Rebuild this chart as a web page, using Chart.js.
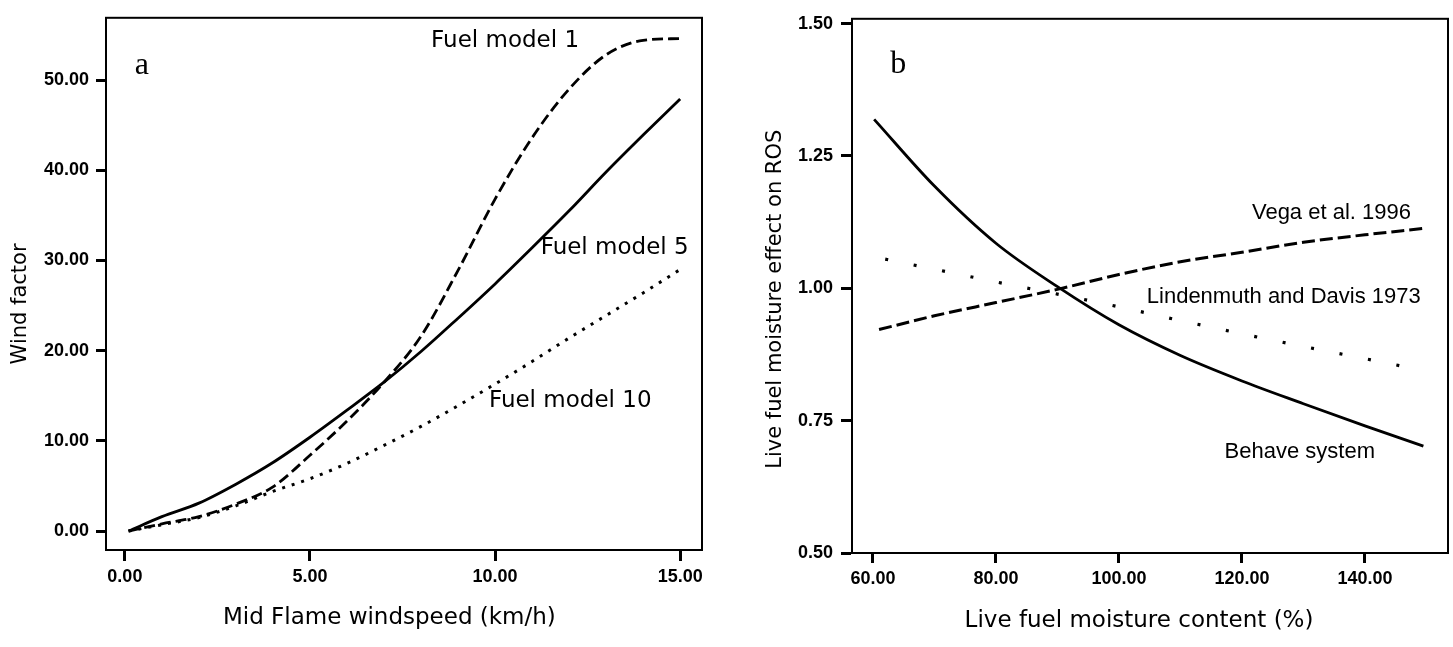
<!DOCTYPE html>
<html>
<head>
<meta charset="utf-8">
<script src="https://cdn.jsdelivr.net/npm/chart.js@4.4.0/dist/chart.umd.min.js"></script>
<style>
  html, body { margin: 0; padding: 0; background: #fff; }
  body { width: 1453px; height: 647px; position: relative; overflow: hidden; }
  canvas { position: absolute; top: 0; }
</style>
</head>
<body>
<canvas id="chartA" width="727" height="647" style="left:0"></canvas>
<canvas id="chartB" width="726" height="647" style="left:727px"></canvas>
<script>
// panel a: wind factor vs mid flame windspeed
const windSpeed = [0.1, 1, 2, 3, 4, 5, 6, 7, 8, 9, 10, 11, 12, 13, 14, 15];
const fuelModel1 = [0, 0.8, 1.6, 3.0, 4.9, 8.4, 12.2, 16.5, 21.6, 28.9, 36.8, 43.6, 49.0, 52.8, 54.4, 54.6];
const fuelModel5 = [0, 1.6, 3.1, 5.2, 7.6, 10.4, 13.4, 16.5, 19.9, 23.6, 27.4, 31.4, 35.5, 39.8, 43.9, 47.9];
const fuelModel10 = [0, 0.7, 1.5, 2.8, 4.4, 5.8, 7.5, 9.5, 11.6, 13.9, 16.3, 18.8, 21.4, 23.9, 26.4, 29.0];
const ticksAx = [0, 5, 10, 15];
const ticksAy = [0, 10, 20, 30, 40, 50];

// panel b: live fuel moisture effect on ROS
const behaveX = [60.2, 70, 80, 90, 100, 110, 120, 130, 140, 149.5];
const behave = [1.319, 1.193, 1.085, 1.003, 0.931, 0.873, 0.825, 0.782, 0.740, 0.702];
const vegaX = [61, 70, 80, 90, 100, 110, 120, 130, 140, 149.5];
const vega = [0.922, 0.948, 0.973, 0.998, 1.026, 1.050, 1.068, 1.087, 1.101, 1.113];
const lindX = [62, 70, 80, 90, 100, 110, 120, 130, 140, 149];
const lind = [1.055, 1.036, 1.012, 0.989, 0.965, 0.939, 0.914, 0.890, 0.867, 0.846];
const ticksBx = [60, 80, 100, 120, 140];
const ticksBy = [0.5, 0.75, 1.0, 1.25, 1.5];

const serif = "'Liberation Serif', serif";
const sans = "'Liberation Sans', Arial, sans-serif";
const verd = "'DejaVu Sans', sans-serif";

const notesA = [
  { text: "a", x: 0.46, y: 51.6, font: `32px ${serif}` },
  { text: "Fuel model 1", x: 10.27, y: 54.3, font: `23px ${verd}` },
  { text: "Fuel model 5", x: 13.23, y: 31.4, font: `23px ${verd}` },
  { text: "Fuel model 10", x: 12.03, y: 14.4, font: `23px ${verd}` },
];
const notesB = [
  { text: "b", x: 64.1, y: 1.423, font: `32px ${serif}` },
  { text: "Vega et al. 1996", x: 134.55, y: 1.143, font: `22px ${sans}` },
  { text: "Lindenmuth and Davis 1973", x: 126.8, y: 0.983, font: `22px ${sans}` },
  { text: "Behave system", x: 129.4, y: 0.691, font: `22px ${sans}` },
];

const boxAndNotes = {
  id: "boxAndNotes",
  afterDatasetsDraw(chart, args, opts) {
    const { ctx, chartArea: a, scales } = chart;
    ctx.save();
    ctx.strokeStyle = "#000";
    ctx.lineWidth = 2;
    ctx.strokeRect(a.left, a.top, a.right - a.left, a.bottom - a.top);
    ctx.fillStyle = "#000";
    ctx.textAlign = "center";
    ctx.textBaseline = "middle";
    (opts.notes || []).forEach((n) => {
      ctx.font = n.font;
      ctx.fillText(n.text, scales.x.getPixelForValue(n.x), scales.y.getPixelForValue(n.y));
    });
    ctx.restore();
  },
};

const series = (xs, ys, dash, width) => ({
  data: xs.map((x, i) => ({ x: x, y: ys[i] })),
  borderColor: "#000",
  borderWidth: width,
  borderDash: dash,
  pointRadius: 0,
  cubicInterpolationMode: "monotone",
  fill: false,
});

const axis = (o) => ({
  type: "linear",
  min: o.min,
  max: o.max,
  afterFit: (s) => {
    if (s.isHorizontal()) s.height = o.size;
    else s.width = o.size;
  },
  afterBuildTicks: (s) => {
    s.ticks = o.ticks.map((v) => ({ value: v }));
  },
  border: { display: true, color: "#000", width: 2 },
  grid: {
    display: true,
    drawOnChartArea: false,
    drawTicks: true,
    tickLength: o.tl,
    tickWidth: 3,
    tickColor: "#000",
  },
  ticks: {
    color: "#000",
    font: { family: sans, size: 18, weight: "bold" },
    padding: o.pad,
    autoSkip: false,
    maxRotation: 0,
    callback: (v) => Number(v).toFixed(2),
  },
  title: {
    display: true,
    // trailing spaces nudge the centred title to where the original sits
    text: o.title,
    color: "#000",
    font: { family: verd, size: o.titleSize },
    padding: o.titlePad,
  },
});

const baseOptions = (pad, notes, xAxis, yAxis) => ({
  responsive: false,
  animation: false,
  layout: { padding: pad },
  plugins: {
    legend: { display: false },
    tooltip: { enabled: false },
    boxAndNotes: { notes: notes },
  },
  scales: { x: xAxis, y: yAxis },
});

new Chart(document.getElementById("chartA"), {
  type: "line",
  data: {
    datasets: [
      series(windSpeed, fuelModel1, [11, 5], 2.8),
      series(windSpeed, fuelModel5, [], 2.8),
      series(windSpeed, fuelModel10, [3, 7], 3),
    ],
  },
  options: baseOptions(
    { left: 0, top: 17, right: 25, bottom: 0 },
    notesA,
    axis({ min: -0.51, max: 15.59, ticks: ticksAx, size: 97, tl: 11, pad: 5,
      title: "Mid Flame windspeed (km/h)    ", titleSize: 23, titlePad: { bottom: 15 } }),
    axis({ min: -2.1, max: 56.9, ticks: ticksAy, size: 106, tl: 10, pad: 7,
      title: "Wind factor      ", titleSize: 21, titlePad: { top: 8 } })
  ),
  plugins: [boxAndNotes],
});

new Chart(document.getElementById("chartB"), {
  type: "line",
  data: {
    datasets: [
      series(behaveX, behave, [], 2.8),
      series(vegaX, vega, [13, 5], 3),
      series(lindX, lind, [3, 26], 3.2),
    ],
  },
  options: baseOptions(
    { left: 0, top: 18, right: 5, bottom: 0 },
    notesB,
    axis({ min: 56.6, max: 153.5, ticks: ticksBx, size: 94, tl: 10, pad: 5,
      title: "Live fuel moisture content (%)   ", titleSize: 23, titlePad: { bottom: 12 } }),
    axis({ min: 0.5, max: 1.509, ticks: ticksBy, size: 125, tl: 11, pad: 8,
      title: "Live fuel moisture effect on ROS    ", titleSize: 21, titlePad: { top: 36 } })
  ),
  plugins: [boxAndNotes],
});
</script>
</body>
</html>
